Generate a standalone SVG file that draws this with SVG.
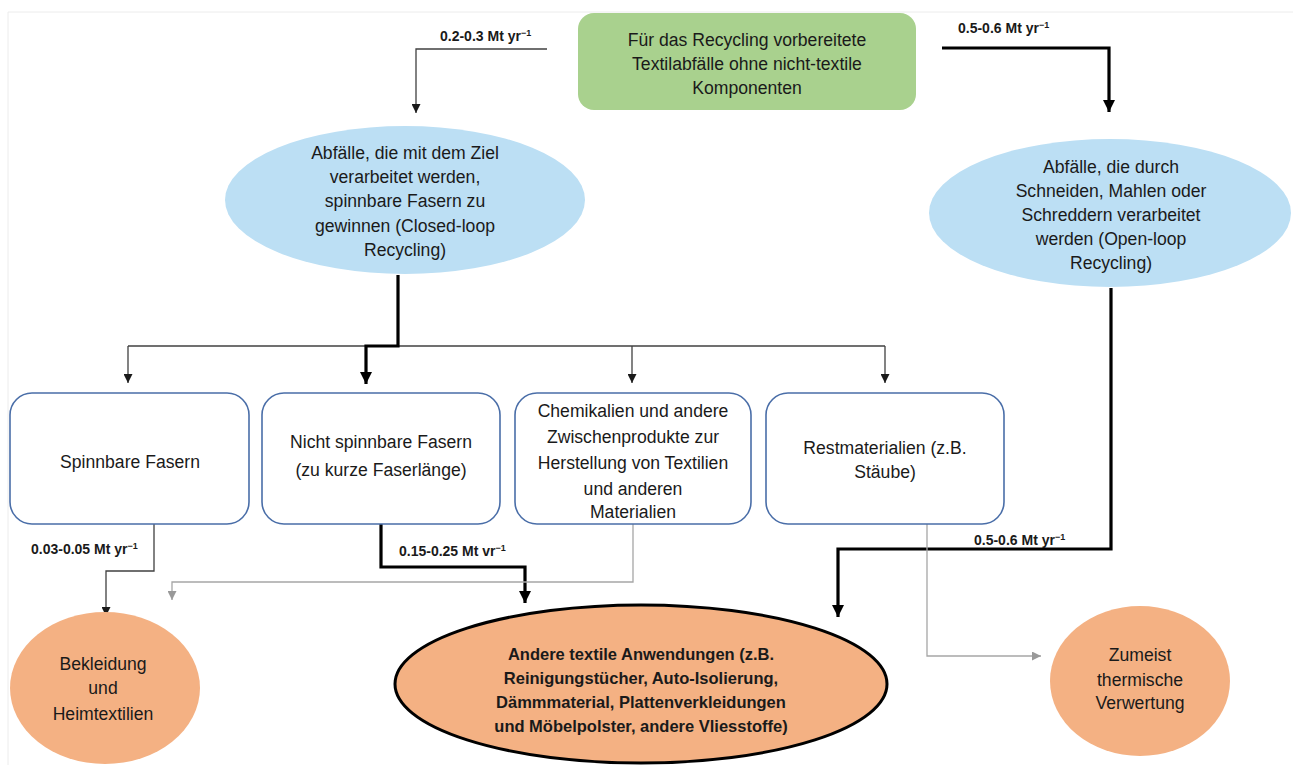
<svg xmlns="http://www.w3.org/2000/svg" width="1293" height="765" viewBox="0 0 1293 765">
<style>
  text { font-family: "Liberation Sans", Arial, sans-serif; fill: #1a1a1a; text-anchor: middle; }
  .t { font-size: 17.6px; }
  .tb { font-size: 16.5px; font-weight: bold; }
  .lbl { font-size: 14px; font-weight: bold; text-anchor: start; }
  .sup { font-size: 9px; }
  .box { fill: #ffffff; stroke: #4a6ea8; stroke-width: 1.6; }
  .blue { fill: #bcdff4; }
  .orange { fill: #f4b183; }
  .thin { fill: none; stroke: #404040; stroke-width: 1.3; }
  .light { fill: none; stroke: #a6a6a6; stroke-width: 1.3; }
  .thick { fill: none; stroke: #000000; stroke-width: 3.2; }
</style>
<defs>
  <marker id="ah" viewBox="0 0 10 10" refX="10" refY="5" markerWidth="9" markerHeight="9" markerUnits="userSpaceOnUse" orient="auto">
    <path d="M0,0 L10,5 L0,10 z" fill="#1a1a1a"/>
  </marker>
  <marker id="ahb" viewBox="0 0 10 10" refX="10" refY="5" markerWidth="12" markerHeight="12" markerUnits="userSpaceOnUse" orient="auto">
    <path d="M0,0 L10,5 L0,10 z" fill="#000000"/>
  </marker>
  <marker id="ahg" viewBox="0 0 10 10" refX="10" refY="5" markerWidth="9" markerHeight="9" markerUnits="userSpaceOnUse" orient="auto">
    <path d="M0,0 L10,5 L0,10 z" fill="#999999"/>
  </marker>
</defs>
<rect x="0" y="0" width="1293" height="765" fill="#ffffff"/>
<path d="M8,765 L8,12 L1293,12" fill="none" stroke="#ececec" stroke-width="1"/>

<g id="connectors">
  <path class="thin" d="M547,49 L416,49 L416,113" marker-end="url(#ah)"/>
  <path class="thick" d="M942,48 L1109,48 L1109,112" marker-end="url(#ahb)"/>
  <path class="thin" d="M128,346 L885,346"/>
  <path class="thin" d="M128,346 L128,383" marker-end="url(#ah)"/>
  <path class="thin" d="M632,346 L632,383" marker-end="url(#ah)"/>
  <path class="thin" d="M885,346 L885,383" marker-end="url(#ah)"/>
  <path class="thick" d="M398,275 L398,346 L366,346 L366,384" marker-end="url(#ahb)"/>
  <path class="thick" d="M1111,288 L1111,549 L838,549 L838,617" marker-end="url(#ahb)"/>
  <path class="thin" d="M154,524 L154,571 L106,571 L106,616" marker-end="url(#ah)"/>
  <path class="thick" d="M381,524 L381,567 L525,567 L525,603" marker-end="url(#ahb)"/>
  <path class="light" d="M633,524 L633,582 L172,582 L172,600" marker-end="url(#ahg)"/>
  <path class="light" d="M927,524 L927,656 L1041,656" marker-end="url(#ahg)"/>
  <text class="lbl" x="440" y="41">0.2-0.3 Mt yr<tspan class="sup" dy="-5">−1</tspan></text>
  <text class="lbl" x="958" y="33">0.5-0.6 Mt yr<tspan class="sup" dy="-5">−1</tspan></text>
  <text class="lbl" x="31" y="554">0.03-0.05 Mt yr<tspan class="sup" dy="-5">−1</tspan></text>
  <text class="lbl" x="399" y="556">0.15-0.25 Mt vr<tspan class="sup" dy="-5">−1</tspan></text>
  <text class="lbl" x="974" y="545">0.5-0.6 Mt yr<tspan class="sup" dy="-5">−1</tspan></text>
</g>

<g id="n-source">
  <rect x="578" y="13" width="338" height="97" rx="16" fill="#a9d18e"/>
  <text class="t" x="747" y="46">Für das Recycling vorbereitete</text>
  <text class="t" x="747" y="70">Textilabfälle ohne nicht-textile</text>
  <text class="t" x="747" y="94">Komponenten</text>
</g>

<g id="n-closed">
  <ellipse class="blue" cx="405" cy="200" rx="180" ry="74"/>
  <text class="t" x="405" y="159">Abfälle, die mit dem Ziel</text>
  <text class="t" x="405" y="183">verarbeitet werden,</text>
  <text class="t" x="405" y="207">spinnbare Fasern zu</text>
  <text class="t" x="405" y="232">gewinnen (Closed-loop</text>
  <text class="t" x="405" y="256">Recycling)</text>
</g>

<g id="n-open">
  <ellipse class="blue" cx="1110" cy="213" rx="181" ry="74"/>
  <text class="t" x="1111" y="173">Abfälle, die durch</text>
  <text class="t" x="1111" y="197">Schneiden, Mahlen oder</text>
  <text class="t" x="1111" y="221">Schreddern verarbeitet</text>
  <text class="t" x="1111" y="245">werden (Open-loop</text>
  <text class="t" x="1111" y="269">Recycling)</text>
</g>

<g id="n-spinnbar">
  <rect class="box" x="10" y="393" width="239" height="131" rx="22"/>
  <text class="t" x="130" y="468">Spinnbare Fasern</text>
</g>

<g id="n-nichtspinnbar">
  <rect class="box" x="262" y="393" width="238" height="131" rx="22"/>
  <text class="t" x="381" y="448">Nicht spinnbare Fasern</text>
  <text class="t" x="381" y="476">(zu kurze Faserlänge)</text>
</g>

<g id="n-chemikalien">
  <rect class="box" x="515" y="393" width="236" height="131" rx="22"/>
  <text class="t" x="633" y="417">Chemikalien und andere</text>
  <text class="t" x="633" y="443">Zwischenprodukte zur</text>
  <text class="t" x="633" y="469">Herstellung von Textilien</text>
  <text class="t" x="633" y="495">und anderen</text>
  <text class="t" x="633" y="518">Materialien</text>
</g>

<g id="n-rest">
  <rect class="box" x="766" y="393" width="238" height="131" rx="22"/>
  <text class="t" x="885" y="454">Restmaterialien (z.B.</text>
  <text class="t" x="885" y="478">Stäube)</text>
</g>

<g id="n-bekleidung">
  <ellipse class="orange" cx="105" cy="688" rx="95" ry="76"/>
  <text class="t" x="103" y="670">Bekleidung</text>
  <text class="t" x="103" y="694">und</text>
  <text class="t" x="103" y="720">Heimtextilien</text>
</g>

<g id="n-andere">
  <ellipse class="orange" cx="641" cy="684" rx="246" ry="79" stroke="#000000" stroke-width="3"/>
  <text class="tb" x="641" y="660">Andere textile Anwendungen (z.B.</text>
  <text class="tb" x="641" y="684">Reinigungstücher, Auto-Isolierung,</text>
  <text class="tb" x="641" y="708">Dämmmaterial, Plattenverkleidungen</text>
  <text class="tb" x="641" y="732">und Möbelpolster, andere Vliesstoffe)</text>
</g>

<g id="n-thermisch">
  <ellipse class="orange" cx="1140" cy="681" rx="90" ry="75"/>
  <text class="t" x="1140" y="661">Zumeist</text>
  <text class="t" x="1140" y="686">thermische</text>
  <text class="t" x="1140" y="709">Verwertung</text>
</g>
</svg>
